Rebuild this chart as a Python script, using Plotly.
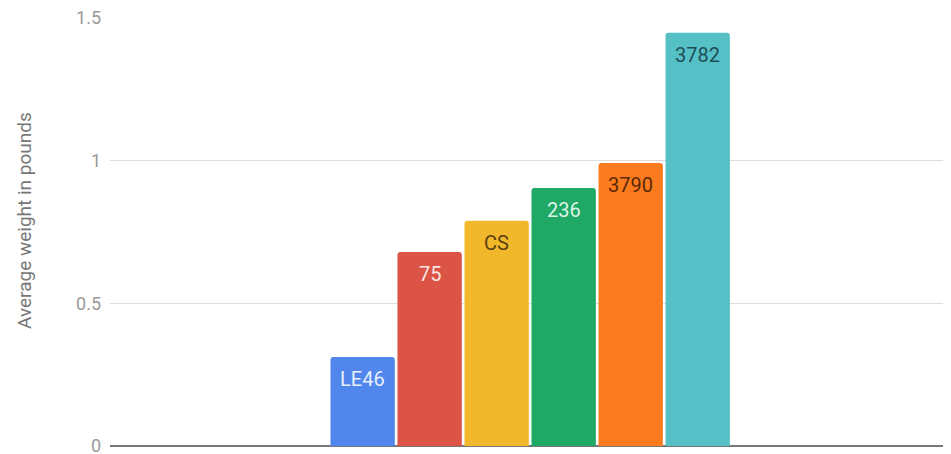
import plotly.graph_objects as go

names = ["LE46", "75", "CS", "236", "3790", "3782"]
values = [0.312, 0.68, 0.789, 0.904, 0.992, 1.448]
colors = ["#5186EC", "#DB5446", "#F2B82B", "#1FA866", "#FD7B1F", "#55C1C6"]
text_colors = ["#E8F0FF", "#FBE4E2", "#5A4210", "#DDF5E6", "#5A2A08", "#1F4F55"]
y_ticks = [0, 0.5, 1, 1.5]
y_ticktext = ["0", "0.5", "1", "1.5"]
y_title = "Average weight in pounds"

fig = go.Figure()
fig.add_trace(go.Bar(
    x=names, y=values,
    marker=dict(color=colors, cornerradius=3, line=dict(width=0)),
    hoverinfo="skip",
))

for i, (n, v, tc) in enumerate(zip(names, values, text_colors)):
    fig.add_annotation(
        x=i, y=v, xref="x", yref="y", text=n, showarrow=False,
        yanchor="middle", yshift=-22,
        font=dict(family="Roboto", size=20, color=tc),
    )

fig.add_annotation(
    x=0, y=0.5, xref="paper", yref="paper", text=y_title, showarrow=False,
    textangle=-90, xanchor="center", yanchor="middle", xshift=-86, yshift=11,
    font=dict(family="Roboto", size=19, color="#777777"),
)

fig.update_layout(
    width=943, height=446,
    margin=dict(l=102, r=0, t=10, b=8),
    paper_bgcolor="white", plot_bgcolor="white",
    bargap=0.04,
    showlegend=False,
    font=dict(family="Roboto", color="#757575"),
)
fig.update_xaxes(
    type="category", categoryorder="array", categoryarray=names,
    range=[-3.77, 8.78],
    showticklabels=False, showgrid=False, zeroline=False, showline=False,
)
fig.update_yaxes(
    range=[0, 1.5], tickvals=y_ticks, ticktext=y_ticktext,
    showgrid=True, gridcolor="#DDDDDD", gridwidth=1,
    zeroline=True, zerolinecolor="#777777", zerolinewidth=1.5,
    tickfont=dict(family="Roboto", size=18, color="#999999"),
    ticklabelstandoff=8, ticklabeloverflow="allow",
    automargin=False,
)

fig.write_html("out.html")
